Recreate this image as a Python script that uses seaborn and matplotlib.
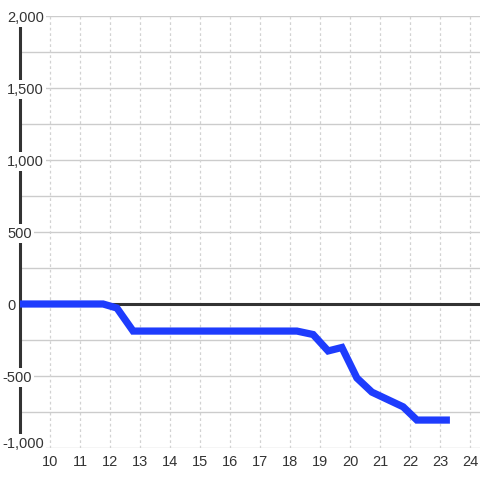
import matplotlib
matplotlib.use("Agg")
import matplotlib.pyplot as plt
import matplotlib.transforms as mtransforms
import seaborn as sns
import pandas as pd

# ---- data ----
hours = [9.0, 11.77, 12.23, 12.77, 18.23, 18.77, 19.27, 19.73, 20.23, 20.73, 21.77, 22.23, 23.33]
values = [0, 0, -28, -188, -188, -212, -326, -302, -514, -612, -714, -806, -806]
x_ticks = [10, 11, 12, 13, 14, 15, 16, 17, 18, 19, 20, 21, 22, 23, 24]
x_labels = ["10", "11", "12", "13", "14", "15", "16", "17", "18", "19", "20", "21", "22", "23", "24"]
y_ticks = [2000, 1500, 1000, 500, 0, -500, -1000]
y_labels = ["2,000", "1,500", "1,000", "500", "0", "-500", "-1,000"]
y_grid = [2000, 1750, 1500, 1250, 1000, 750, 500, 250, -250, -500, -750, -1000]

sns.set_theme(style="white")
plt.rcParams["font.family"] = ["Liberation Sans", "DejaVu Sans"]

df = pd.DataFrame({"hour": hours, "value": values})

fig = plt.figure(figsize=(4.8, 4.8), dpi=100)
ax = fig.add_axes([20 / 480, 32 / 480, 460 / 480, 432 / 480])
ax.set_facecolor("white")

ax.set_xlim(9, 24.333)
ax.set_ylim(-1000, 2000)

# grid lines
for g in y_grid:
    ax.axhline(g, color="#cccccc", lw=1, zorder=1)
for t in x_ticks:
    ax.axvline(t, color="#d2d2d2", lw=0.9, ls=(0, (2.2, 2.2)), zorder=1)

# zero line
ax.axhline(0, color="#333333", lw=2.2, zorder=2.6)

# data line
sns.lineplot(data=df, x="hour", y="value", ax=ax, color="#1e3cfd", lw=5.2,
             zorder=3, solid_capstyle="butt", solid_joinstyle="miter")

# spines
for s in ["top", "right", "bottom"]:
    ax.spines[s].set_visible(False)
ax.spines["left"].set_color("#333333")
ax.spines["left"].set_linewidth(2.2)
ax.spines["left"].set_zorder(2.5)

# x ticks
ax.set_xticks(x_ticks, labels=x_labels)
ax.tick_params(axis="x", length=0, pad=5, labelsize=10.5, labelcolor="#333333")
ax.set_yticks([])
ax.set_xlabel("")
ax.set_ylabel("")

# y tick labels drawn over the spine with white background
for v, lab in zip(y_ticks, y_labels):
    dx = -5 if lab.startswith("-") else 0
    dy = 6 if v == y_ticks[-1] else 0
    off = mtransforms.offset_copy(ax.get_yaxis_transform(), fig=fig, x=dx, y=dy, units="dots")
    ax.text(-13 / 460, v, lab, transform=off, ha="left", va="center_baseline",
            fontsize=10.5, color="#333333", zorder=6, clip_on=False,
            bbox=dict(boxstyle="square,pad=0.15", fc="white", ec="none"))

fig.savefig("out.png", dpi=100, facecolor="white")
